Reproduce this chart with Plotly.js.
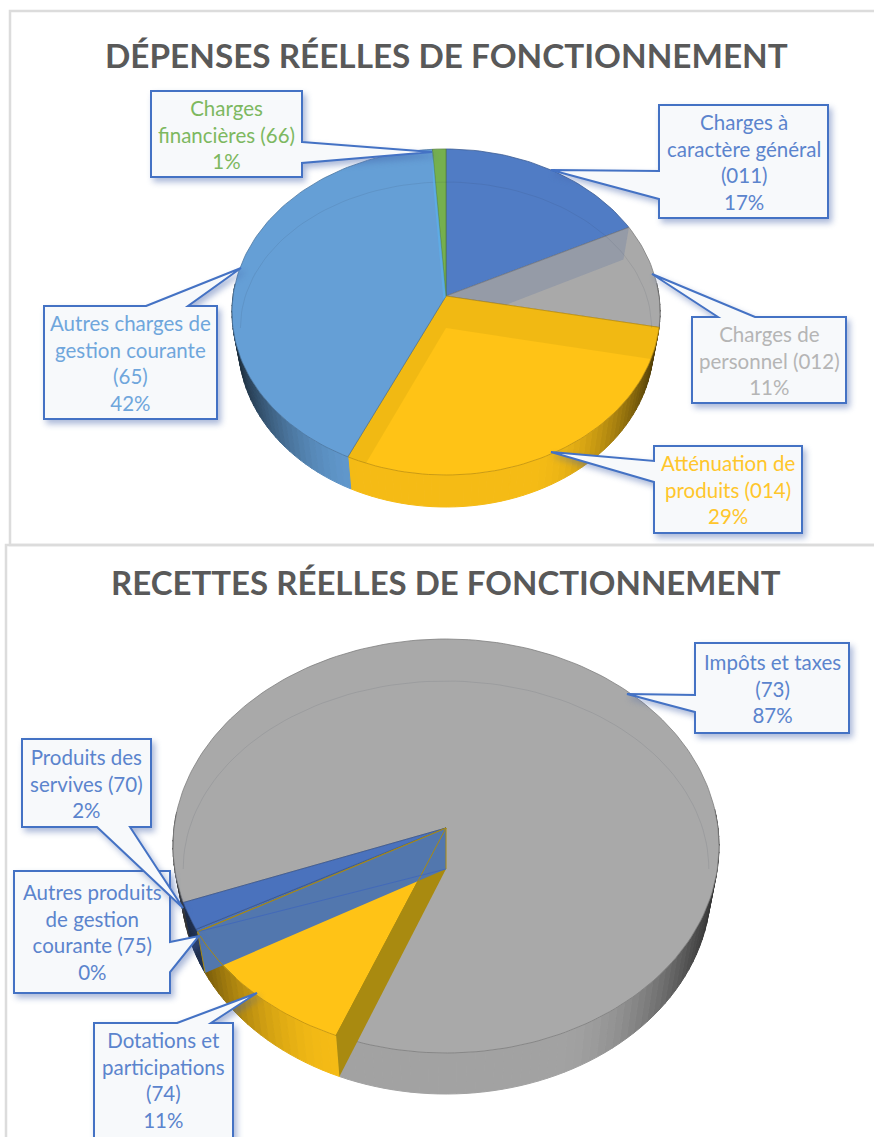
<!DOCTYPE html>
<html lang="fr">
<head>
<meta charset="utf-8">
<script src="https://cdn.plot.ly/plotly-3.0.1.min.js"></script>
<style>
html,body{margin:0;padding:0;background:#fff;overflow:hidden}
#chart{width:874px;height:1137px}
.layer-above .shapelayer path{filter:drop-shadow(3px 4px 3px rgba(68,100,170,.45))}
</style>
</head>
<body>
<div id="chart"></div>
<script>
// ---- data ----
const depTitle = "DÉPENSES RÉELLES DE FONCTIONNEMENT";
const depCategories = ["Charges à<br>caractère général<br>(011)", "Charges de<br>personnel (012)", "Atténuation de<br>produits (014)", "Autres charges de<br>gestion courante<br>(65)", "Charges<br>financières (66)"];
const depValues = [17, 11, 29, 42, 1];
const depPercents = ["17%", "11%", "29%", "42%", "1%"];
const depColors = ["#507cc5", "#a9a9a9", "#ffc316", "#659fd6", "#75b04e"];
const depTextColors = ["#5b84cd", "#b5b5b5", "#ffc62b", "#6fa6dc", "#7db85f"];

const recTitle = "RECETTES RÉELLES DE FONCTIONNEMENT";
const recCategories = ["Impôts et taxes<br>(73)", "Dotations et<br>participations<br>(74)", "Autres produits<br>de gestion<br>courante (75)", "Produits des<br>servives (70)"];
const recValues = [87, 11, 0.2, 2];
const recPercents = ["87%", "11%", "0%", "2%"];
const recColors = ["#a9a9a9", "#ffc316", "#4a72bd", "#4a72bd"];
const recTextColor = "#5b84cd";

// ---- layout of the two pies and their callouts ----
const depGeom = {cx:446, apexY:296, cy:312, rx:214, ry:163, back:146, front:165, depth:32, shrink:0.97, start:0};
const recGeom = {cx:446, apexY:828, cy:846, rx:273, ry:207, back:188, front:225, depth:41, shrink:0.97, start:251};
const depBoxes = [
  {box:[659,105,828,218], ptr:[[659,199],[551,170],[659,171]], side:'left'},
  {box:[692,317,846,403], ptr:[[718,317],[652,274],[755,317]], side:'top'},
  {box:[654,446,802,533], ptr:[[654,482],[551,452],[654,461]], side:'left'},
  {box:[44,306,217,419],  ptr:[[146,306],[241,268],[188,306]], side:'top'},
  {box:[151,91,302,177],  ptr:[[302,142],[432,152],[302,163]], side:'right'}
];
const recBoxes = [
  {box:[695,643,849,733], ptr:[[695,712],[627,694],[695,695]], side:'left'},
  {box:[94,1023,233,1150], ptr:[[177,1023],[257,993],[211,1023]], side:'top'},
  {box:[14,871,170,993],  ptr:[[170,942],[199,936],[170,972]], side:'right'},
  {box:[22,739,151,827],  ptr:[[97,827],[183,908],[130,827]], side:'bottom'}
];

// ---- helpers ----
const DEG = Math.PI/180;
function rim(g, deg){
  const s = Math.sin(deg*DEG), c = Math.cos(deg*DEG);
  const dx = g.rx*s, dy = c>0 ? -g.back*c : -g.front*c;
  const a = (dx*dx)/(g.rx*g.rx) + (dy*dy)/(g.ry*g.ry);
  const oy = g.apexY - g.cy;
  const b = 2*oy*dy/(g.ry*g.ry);
  const cc = oy*oy/(g.ry*g.ry) - 1;
  const t = (-b + Math.sqrt(b*b-4*a*cc))/(2*a);
  return [g.cx + t*dx, g.apexY + t*dy];
}
function lower(g, p){ return [g.cx+(p[0]-g.cx)*g.shrink, p[1]+g.depth]; }
function arc(g, a0, a1, step){
  const n = Math.max(1, Math.ceil(Math.abs(a1-a0)/(step||1.5))), pts=[];
  for(let i=0;i<=n;i++) pts.push(rim(g, a0+(a1-a0)*i/n));
  return pts;
}
function hex(c){return [1,3,5].map(i=>parseInt(c.substr(i,2),16));}
function shade(c,f){const v=hex(c).map(x=>Math.round(x*f));return `rgb(${v[0]},${v[1]},${v[2]})`;}
const traces = [];
function poly(pts, fill, line, w){
  traces.push({type:'scatter', mode:'lines', x:pts.map(p=>p[0]).concat([pts[0][0]]), y:pts.map(p=>p[1]).concat([pts[0][1]]),
    fill:'toself', fillcolor:fill, line:{color:line||fill, width:w===undefined?0:w}, hoverinfo:'skip', showlegend:false});
}
function path(pts, color, w){
  traces.push({type:'scatter', mode:'lines', x:pts.map(p=>p[0]), y:pts.map(p=>p[1]), line:{color:color, width:w}, hoverinfo:'skip', showlegend:false});
}
function clip(subject, wedge){
  let out = subject;
  for(let i=0;i<wedge.length;i++){
    const A=wedge[i], B=wedge[(i+1)%wedge.length], inp=out; out=[];
    const side=p=>(B[0]-A[0])*(p[1]-A[1])-(B[1]-A[1])*(p[0]-A[0]);
    for(let j=0;j<inp.length;j++){
      const P=inp[j], Q=inp[(j+1)%inp.length], sp=side(P), sq=side(Q);
      if(sp>=0) out.push(P);
      if((sp>=0)!==(sq>=0)){const t=sp/(sp-sq); out.push([P[0]+t*(Q[0]-P[0]),P[1]+t*(Q[1]-P[1])]);}
    }
    if(!out.length) break;
  }
  return out;
}
function bounds(g, values){
  const tot = values.reduce((a,b)=>a+b,0); let acc=0;
  const res=[g.start];
  values.forEach(v=>{acc+=v; res.push(g.start+acc/tot*360);});
  return res;
}
function wall(g, deg){
  const r=rim(g,deg);
  return [[g.cx,g.apexY], r, lower(g,r), [g.cx,g.apexY+g.depth]];
}
function wedge(g,a0,a1){ return [[g.cx,g.apexY]].concat(arc(g,a0,a1,1.5)); }

function drawSides(g, values, colors){
  const b = bounds(g, values);
  values.forEach((v,i)=>{
    const n=Math.max(1,Math.ceil((b[i+1]-b[i])/2));
    for(let k=0;k<n;k++){
      const a0=b[i]+(b[i+1]-b[i])*k/n, a1=b[i]+(b[i+1]-b[i])*(k+1)/n, mid=(a0+a1)/2;
      if(Math.cos(mid*DEG)>0.1) continue;
      const p0=rim(g,a0), p1=rim(g,a1), t=Math.abs(rim(g,mid)[0]-g.cx)/g.rx;
      const f=0.96*(1-0.6*Math.pow(Math.max(0,(t-0.4)/0.55),2));
      const col=shade(colors[i],Math.max(f,0.3));
      poly([p0,p1,lower(g,p1),lower(g,p0)], col, col, 1);
    }
  });
}
function drawTop(g, values, colors){
  const b = bounds(g, values);
  values.forEach((v,i)=>poly(wedge(g,b[i],b[i+1]), colors[i], shade(colors[i],0.75), 0.8));
}
function ring(g){
  const pts=[], rr=g.rx*g.shrink-2, cy=g.apexY+g.depth;
  for(let d=-90;d<=90;d+=2) pts.push([g.cx+rr*Math.sin(d*DEG), cy-g.back*Math.cos(d*DEG)]);
  path(pts,'rgba(40,50,70,0.10)',1);
}

// ---- first pie ----
drawSides(depGeom, depValues, depColors);
drawTop(depGeom, depValues, depColors);
ring(depGeom);
(function(){
  const g=depGeom, b=bounds(g,depValues);
  poly(clip(wall(g,b[1]), wedge(g,b[1],b[2])), 'rgba(70,100,160,0.20)');
  poly(clip(wall(g,b[2]), wedge(g,b[2],b[3])), 'rgba(150,120,0,0.13)');
  poly(clip(wall(g,b[3]), wedge(g,b[2],b[3])), 'rgba(150,120,0,0.13)');
  poly(clip(wall(g,b[4]), wedge(g,b[3],b[4])), 'rgba(90,180,240,0.55)');
})();

// ---- second pie ----
drawSides(recGeom, recValues, recColors);
drawTop(recGeom, recValues, recColors);
ring(recGeom);
(function(){
  const g=recGeom, b=bounds(g,recValues), gold='#a98a10';
  poly(wall(g,b[1]), gold);
  poly(wall(g,b[2]), '#5277ae');
  path([[g.cx,g.apexY], rim(g,b[1])], gold, 1);
  path([[g.cx,g.apexY], rim(g,b[2])], gold, 1.2);
  const r=rim(g,b[2]), l=lower(g,r);
  path([r,l], gold, 1);
  path(arc(g,b[2]-14,b[2]), gold, 1);
  path([[g.cx,g.apexY],[g.cx,g.apexY+g.depth]], gold, 1);
  path([r,[g.cx,g.apexY+g.depth]], 'rgba(60,100,190,0.7)', 1);
})();

// ---- callouts ----
const shapes = [
  {type:'rect',xref:'x',yref:'y',x0:10,y0:11,x1:890,y1:545,line:{color:'#dcdcdc',width:2.5},layer:'below'},
  {type:'rect',xref:'x',yref:'y',x0:6,y0:545,x1:890,y1:1160,line:{color:'#dcdcdc',width:2.5},layer:'below'}
];
function calloutPath(c){
  const [x0,y0,x1,y1]=c.box, p=c.ptr;
  const L=q=>`L ${q[0]} ${q[1]} `;
  const corners={top:[[x1,y0],[x1,y1],[x0,y1],[x0,y0]], right:[[x1,y1],[x0,y1],[x0,y0],[x1,y0]],
                 bottom:[[x0,y1],[x0,y0],[x1,y0],[x1,y1]], left:[[x0,y0],[x1,y0],[x1,y1],[x0,y1]]};
  const order = {top:[p[0],p[1],p[2]], right:[p[0],p[1],p[2]], bottom:[p[2],p[1],p[0]], left:[p[0],p[1],p[2]]}[c.side];
  const cs = corners[c.side];
  return `M ${order[0][0]} ${order[0][1]} `+L(order[1])+L(order[2])+cs.map(L).join('')+'Z';
}
const annotations = [];
function callouts(boxes, cats, pcts, colorOf){
  boxes.forEach((c,i)=>{
    shapes.push({type:'path',xref:'x',yref:'y',path:calloutPath(c),fillcolor:'#f7f9fb',line:{color:'#4472c4',width:2},layer:'above'});
    const y1=Math.min(c.box[3],1137);
    annotations.push({xref:'x',yref:'y',x:(c.box[0]+c.box[2])/2,y:(c.box[1]+y1)/2,text:cats[i]+'<br>'+pcts[i],showarrow:false,
      xanchor:'center',yanchor:'middle',align:'center',font:{family:'Lato, Carlito, sans-serif',size:20.5,color:colorOf(i)}});
  });
}
callouts(depBoxes, depCategories, depPercents, i=>depTextColors[i]);
callouts(recBoxes, recCategories, recPercents, i=>recTextColor);

annotations.push({xref:'x',yref:'y',x:446.5,y:55,text:'<b>'+depTitle+'</b>',showarrow:false,xanchor:'center',yanchor:'middle',font:{family:'Lato, sans-serif',size:33.3,color:'#595959'}});
annotations.push({xref:'x',yref:'y',x:446,y:582,text:'<b>'+recTitle+'</b>',showarrow:false,xanchor:'center',yanchor:'middle',font:{family:'Lato, sans-serif',size:33,color:'#595959'}});

Plotly.newPlot('chart', traces, {
  width:874, height:1137, margin:{l:0,r:0,t:0,b:0}, paper_bgcolor:'#fff', plot_bgcolor:'#fff', showlegend:false,
  xaxis:{range:[0,874],visible:false,fixedrange:true},
  yaxis:{range:[1137,0],visible:false,fixedrange:true},
  shapes:shapes, annotations:annotations
}, {displayModeBar:false, staticPlot:true});
</script>
</body>
</html>
